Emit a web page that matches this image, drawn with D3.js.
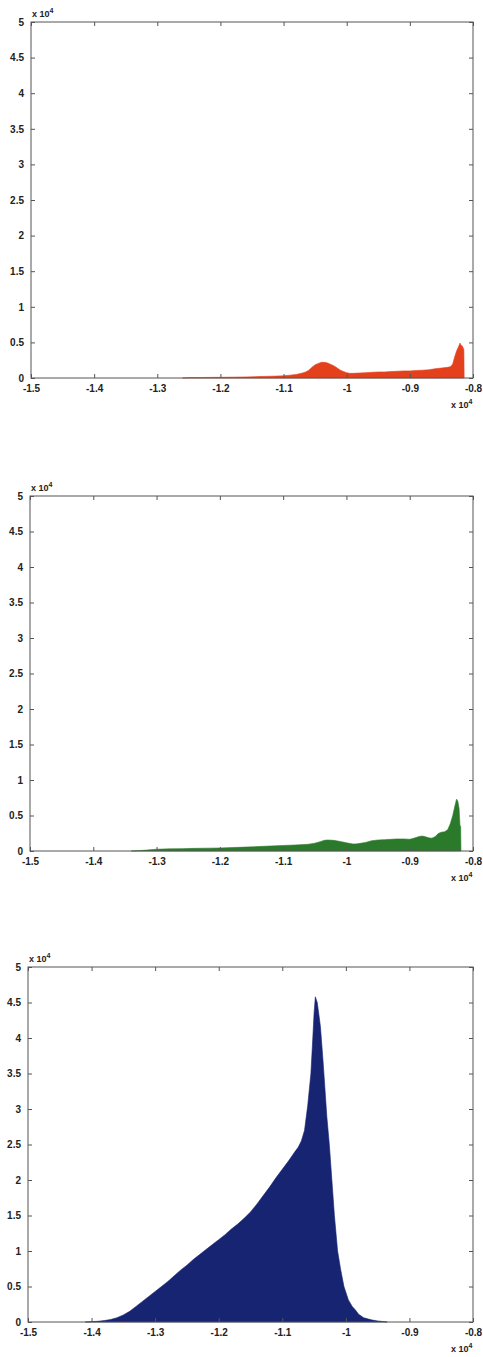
<!DOCTYPE html>
<html>
<head>
<meta charset="utf-8">
<script src="https://cdn.jsdelivr.net/npm/d3@7"></script>
<style>
  body { margin: 0; background: #fff; }
  .tick text { font-family: "Liberation Sans", Arial, sans-serif; font-size: 10px; font-weight: bold; fill: #222; }
  .sci { font-family: "Liberation Sans", Arial, sans-serif; font-size: 9px; font-weight: bold; fill: #222; }
</style>
</head>
<body>
<div id="chart"></div>
<script>
// values are in units of 1e4 on both axes
var xTicks = [-1.5, -1.4, -1.3, -1.2, -1.1, -1, -0.9, -0.8];
var yTicks = [0, 0.5, 1, 1.5, 2, 2.5, 3, 3.5, 4, 4.5, 5];

var redX = [-1.26, -1.25, -1.22, -1.2, -1.18, -1.16, -1.14, -1.12, -1.1, -1.09, -1.08, -1.07, -1.065, -1.06, -1.055, -1.05, -1.045, -1.04, -1.035, -1.03, -1.025, -1.02, -1.015, -1.01, -1.005, -1.0, -0.995, -0.99, -0.98, -0.97, -0.96, -0.95, -0.94, -0.93, -0.92, -0.91, -0.9, -0.89, -0.88, -0.87, -0.86, -0.85, -0.84, -0.835, -0.832, -0.829, -0.826, -0.823, -0.8205, -0.819, -0.817, -0.8145, -0.814];
var redY = [0, 0.005, 0.008, 0.01, 0.012, 0.015, 0.02, 0.025, 0.03, 0.04, 0.05, 0.07, 0.085, 0.11, 0.15, 0.185, 0.205, 0.22, 0.22, 0.21, 0.19, 0.17, 0.14, 0.11, 0.09, 0.075, 0.065, 0.065, 0.07, 0.075, 0.08, 0.085, 0.085, 0.09, 0.095, 0.1, 0.1, 0.105, 0.11, 0.115, 0.13, 0.14, 0.15, 0.16, 0.2, 0.3, 0.38, 0.44, 0.49, 0.46, 0.45, 0.4, 0];

var greenX = [-1.34, -1.33, -1.32, -1.3, -1.28, -1.26, -1.24, -1.22, -1.2, -1.18, -1.16, -1.14, -1.12, -1.1, -1.08, -1.06, -1.05, -1.04, -1.035, -1.03, -1.02, -1.01, -1.0, -0.99, -0.985, -0.98, -0.97, -0.96, -0.95, -0.94, -0.93, -0.92, -0.91, -0.9, -0.895, -0.89, -0.885, -0.88, -0.875, -0.87, -0.865, -0.86, -0.855, -0.85, -0.845, -0.84, -0.836, -0.832, -0.829, -0.826, -0.824, -0.822, -0.8205, -0.8195, -0.819];
var greenY = [0, 0.005, 0.01, 0.025, 0.03, 0.033, 0.037, 0.04, 0.042, 0.048, 0.055, 0.062, 0.07, 0.078, 0.085, 0.095, 0.11, 0.135, 0.15, 0.155, 0.15, 0.135, 0.115, 0.1, 0.1, 0.105, 0.12, 0.145, 0.155, 0.16, 0.165, 0.17, 0.17, 0.165, 0.175, 0.19, 0.205, 0.21, 0.2, 0.185, 0.18, 0.2, 0.245, 0.265, 0.27, 0.3, 0.38, 0.5, 0.62, 0.73, 0.7, 0.6, 0.35, 0.35, 0];

var blueX = [-1.41, -1.4, -1.39, -1.38, -1.37, -1.36, -1.35, -1.34, -1.33, -1.32, -1.31, -1.3, -1.29, -1.28, -1.27, -1.26, -1.25, -1.24, -1.23, -1.22, -1.21, -1.2, -1.19, -1.18, -1.17, -1.16, -1.15, -1.14, -1.13, -1.12, -1.11, -1.1, -1.09, -1.08, -1.075, -1.07, -1.065, -1.06, -1.055, -1.052, -1.05, -1.048, -1.045, -1.042, -1.04, -1.036, -1.033, -1.03, -1.026, -1.022, -1.018, -1.013, -1.008, -1.003, -0.996, -0.99, -0.985, -0.98, -0.972, -0.96, -0.95, -0.94, -0.935];
var blueY = [0, 0.005, 0.01, 0.02, 0.035, 0.06, 0.1, 0.15, 0.22, 0.29, 0.36, 0.43, 0.5, 0.57, 0.65, 0.73, 0.8, 0.88, 0.95, 1.02, 1.09, 1.16, 1.23, 1.31, 1.38, 1.46, 1.55, 1.66, 1.78, 1.9, 2.03, 2.15, 2.27, 2.4, 2.46, 2.55, 2.7, 3.05, 3.5, 4.0, 4.35, 4.58, 4.5, 4.3, 4.16, 3.69, 3.3, 2.9, 2.5, 2.0, 1.5, 1.0, 0.73, 0.5, 0.31, 0.22, 0.17, 0.11, 0.06, 0.03, 0.015, 0.005, 0];

var panels = [
  { xs: redX, ys: redY, color: "#e4401c", left: 31, top: 22, bottom: 378 },
  { xs: greenX, ys: greenY, color: "#2b7a2b", left: 30, top: 496, bottom: 851 },
  { xs: blueX, ys: blueY, color: "#172472", left: 28, top: 967, bottom: 1322 }
];

var width = 483;
var height = 1357;
var right = 473;

var svg = d3.select("#chart")
    .append("svg")
    .attr("width", width)
    .attr("height", height);

panels.forEach(function(p) {

    var data = p.xs.map(function(x, i) { return { x: x, y: p.ys[i] }; });

    var xScale = d3.scaleLinear()
        .domain([-1.5, -0.8])
        .range([p.left, right]);

    var yScale = d3.scaleLinear()
        .domain([0, 5])
        .range([p.bottom, p.top]);

    var area = d3.area()
        .x(function(d) { return xScale(d.x); })
        .y0(p.bottom)
        .y1(function(d) { return yScale(d.y); })
        .curve(d3.curveLinear);

    svg.append("path")
        .datum(data)
        .attr("d", area)
        .attr("fill", p.color)
        .attr("stroke", p.color)
        .attr("stroke-width", 0.6);

    // box
    svg.append("rect")
        .attr("x", p.left)
        .attr("y", p.top)
        .attr("width", right - p.left)
        .attr("height", p.bottom - p.top)
        .attr("fill", "none")
        .attr("stroke", "#555")
        .attr("stroke-width", 1);

    svg.append("g")
        .attr("transform", `translate(0,${p.bottom})`)
        .call(d3.axisBottom(xScale).tickValues(xTicks).tickSizeInner(-4).tickSizeOuter(0).tickPadding(7)
            .tickFormat(function(d) { return String(+d.toFixed(1)); }));

    svg.append("g")
        .attr("transform", `translate(0,${p.top})`)
        .call(d3.axisTop(xScale).tickValues(xTicks).tickSizeInner(-4).tickSizeOuter(0).tickFormat(""));

    svg.append("g")
        .attr("transform", `translate(${p.left},0)`)
        .call(d3.axisLeft(yScale).tickValues(yTicks).tickSizeInner(-4).tickSizeOuter(0).tickPadding(7)
            .tickFormat(function(d) { return String(d); }));

    svg.append("g")
        .attr("transform", `translate(${right},0)`)
        .call(d3.axisRight(yScale).tickValues(yTicks).tickSizeInner(-4).tickSizeOuter(0).tickFormat(""));

    svg.selectAll(".domain").remove();
    svg.selectAll(".tick line").attr("stroke", "#555");

    // x 10^4 labels
    var tl = svg.append("text")
        .attr("class", "sci")
        .attr("x", p.left + 1)
        .attr("y", p.top - 5);
    tl.append("tspan").text("x 10");
    tl.append("tspan").attr("dy", -4).attr("font-size", "7px").text("4");

    var br = svg.append("text")
        .attr("class", "sci")
        .attr("x", 451)
        .attr("y", p.bottom + 30);
    br.append("tspan").text("x 10");
    br.append("tspan").attr("dy", -4).attr("font-size", "7px").text("4");
});
</script>
</body>
</html>
